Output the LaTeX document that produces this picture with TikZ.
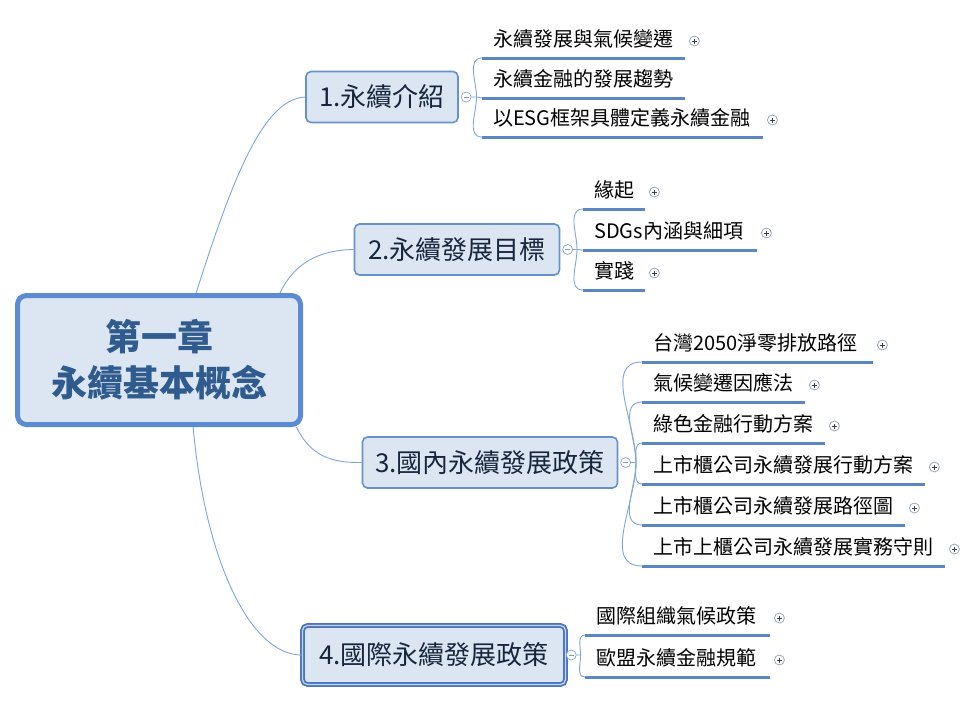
\documentclass[tikz,border=0pt]{standalone}
\usepackage{fontspec}
\setmainfont{Noto Sans CJK TC}
\usepackage{tikz}
\usetikzlibrary{positioning}
\definecolor{rootblue}{HTML}{5B8BD0}
\definecolor{topicfill}{HTML}{DCE6F2}
\definecolor{roottext}{HTML}{2F5B8E}
\definecolor{topicblue}{HTML}{6591CC}
\definecolor{topictext}{HTML}{17253D}
\definecolor{selblue}{HTML}{4A74BC}
\definecolor{selgap}{HTML}{C3D4EE}
\definecolor{twigblue}{HTML}{7EA6D8}
\definecolor{lineblue}{HTML}{5A86C2}
\definecolor{icongray}{HTML}{8C9DB8}
\tikzset{
  rootbox/.style={draw=rootblue,line width=5pt,rounded corners=9pt,fill=topicfill,
    text=roottext,font=\fontsize{36}{46}\selectfont\bfseries,align=center,
    minimum width=283pt,minimum height=129pt},
  topic/.style={draw=topicblue,line width=1.6pt,rounded corners=5pt,fill=topicfill,
    text=topictext,font=\fontsize{26}{30}\selectfont,inner xsep=6pt,minimum height=51pt},
  selected/.style={draw=selblue,line width=1.8pt,double=selgap,double distance=1.2pt},
  leaf/.style={anchor=south west,font=\fontsize{20}{24}\selectfont,text=black,
    inner xsep=11pt,inner ysep=5pt,text height=16pt,text depth=6.6pt,align=left},
  uline/.style={draw=lineblue,line width=3pt},
  twig/.style={draw=twigblue,line width=0.9pt},
  minusicon/.style={circle,draw=twigblue,fill=white,minimum size=10pt,inner sep=0pt,line width=0.7pt,
    path picture={\draw[icongray,line width=0.8pt]
      ([xshift=-2.6pt]path picture bounding box.center) -- ([xshift=2.6pt]path picture bounding box.center);}},
  plusicon/.style={circle,draw=icongray,fill=white,minimum size=10pt,inner sep=0pt,line width=0.7pt,
    path picture={\draw[black!75,line width=0.8pt]
      ([xshift=-2.5pt]path picture bounding box.center) -- ([xshift=2.5pt]path picture bounding box.center)
      ([yshift=-2.5pt]path picture bounding box.center) -- ([yshift=2.5pt]path picture bounding box.center);}}
}

\begin{document}
\begin{tikzpicture}[x=1pt,y=-1pt]
\useasboundingbox (0,0) rectangle (971,716);

\node[rootbox] (root) at (159,360) {第一章\\永續基本概念};

\node[topic, minimum width=152pt] (b1) at (382,97) {1.永續介紹};
\node[topic, minimum width=205pt] (b2) at (457,249.5) {2.永續發展目標};
\node[topic, minimum width=255pt] (b3) at (490,462.5) {3.國內永續發展政策};
\node[topic, selected, minimum width=263pt, minimum height=59pt] (b4) at (434,655) {4.國際永續發展政策};

\draw[twig] (root.61) .. controls (235,170) and (265,99) .. (b1.west);
\draw[twig] (root.29) .. controls (295,262) and (320,250) .. (b2.west);
\draw[twig] (root.-26) .. controls (310,455) and (330,463) .. (b3.west);
\draw[twig] (root.-63) .. controls (205,560) and (250,655) .. (b4.west);

% collapse handles
\node[minusicon, right=2pt of b1] (m1) {};
\node[minusicon, right=2pt of b2] (m2) {};
\node[minusicon, right=2pt of b3] (m3) {};
\node[minusicon, right=-0.5pt of b4] (m4) {};
\coordinate[right=5pt of m1] (j1);
\coordinate[right=4pt of m2] (j2);
\coordinate[right=5pt of m3] (j3);
\coordinate[right=4pt of m4] (j4);

% 1
\node[leaf, text width=181pt] (l11) at (482,58) {永續發展與氣候變遷};
\node[leaf, text width=181pt] (l12) at (482,98) {永續金融的發展趨勢};
\node[leaf, text width=259pt] (l13) at (482,137) {以ESG框架具體定義永續金融};
% 2
\node[leaf, text width=40pt] (l21) at (583,209) {緣起};
\node[leaf, text width=152pt] (l22) at (583,250) {SDGs內涵與細項};
\node[leaf, text width=40pt] (l23) at (583,290) {實踐};
% 3
\node[leaf, text width=209pt] (l31) at (642,362) {台灣2050淨零排放路徑};
\node[leaf, text width=141pt] (l32) at (642,402) {氣候變遷因應法};
\node[leaf, text width=161pt] (l33) at (642,443) {綠色金融行動方案};
\node[leaf, text width=261pt] (l34) at (642,484) {上市櫃公司永續發展行動方案};
\node[leaf, text width=241pt] (l35) at (642,525) {上市櫃公司永續發展路徑圖};
\node[leaf, text width=281pt] (l36) at (642,566) {上市上櫃公司永續發展實務守則};
% 4
\node[leaf, text width=163pt] (l41) at (585,635) {國際組織氣候政策};
\node[leaf, text width=163pt] (l42) at (585,677) {歐盟永續金融規範};

\foreach \n in {l11,l12,l13,l21,l22,l23,l31,l32,l33,l34,l35,l36,l41,l42}
  \draw[uline] (\n.south west) -- (\n.south east);
\foreach \n in {l11,l13,l21,l22,l23,l31,l32,l33,l34,l35,l36,l41,l42}
  \node[plusicon] (p\n) at ([xshift=9pt,yshift=17pt]\n.south east) {};

\draw[twig] (m1) -- (j1) to[out=90,in=180] (l11.south west);
\draw[twig] (j1) -- (l12.south west);
\draw[twig] (j1) to[out=-90,in=180] (l13.south west);

\draw[twig] (m2) -- (j2) to[out=90,in=180] (l21.south west);
\draw[twig] (j2) -- (l22.south west);
\draw[twig] (j2) to[out=-90,in=180] (l23.south west);

\draw[twig] (m3) -- (j3);
\draw[twig] (j3) to[out=90,in=180] (l31.south west);
\draw[twig] (j3) to[out=90,in=180] (l32.south west);
\draw[twig] (j3) to[out=90,in=180] (l33.south west);
\draw[twig] (j3) to[out=-90,in=180] (l34.south west);
\draw[twig] (j3) to[out=-90,in=180] (l35.south west);
\draw[twig] (j3) to[out=-90,in=180] (l36.south west);

\draw[twig] (m4) -- (j4) to[out=90,in=180] (l41.south west);
\draw[twig] (j4) to[out=-90,in=180] (l42.south west);
\end{tikzpicture}
\end{document}
